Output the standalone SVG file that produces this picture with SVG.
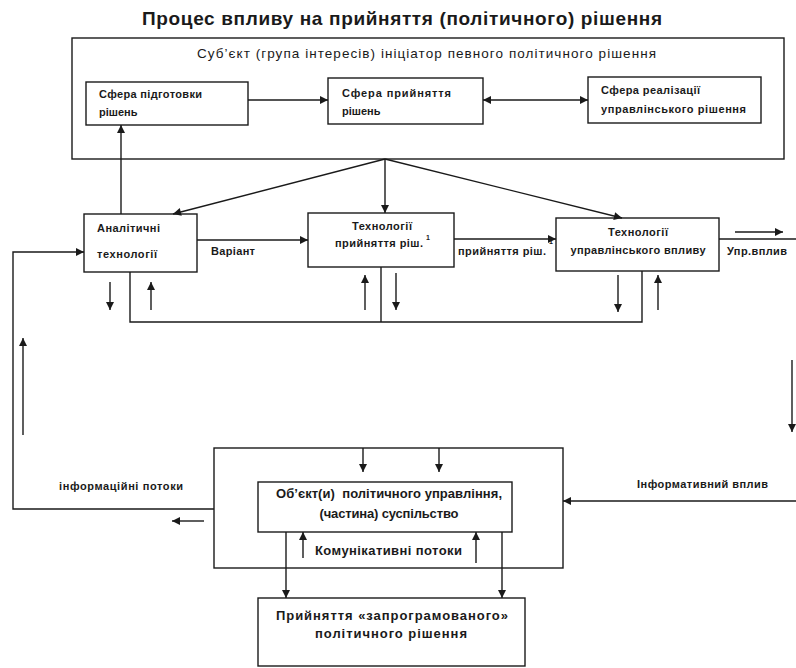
<svg xmlns="http://www.w3.org/2000/svg" width="796" height="668" viewBox="0 0 796 668">
<defs>
<style>
.box{fill:#fff;stroke:#1a1a1a;stroke-width:1.4}
.ln{fill:none;stroke:#1a1a1a;stroke-width:1.4}
.ar{fill:none;stroke:#1a1a1a;stroke-width:1.4;marker-end:url(#ah)}
.t{font-family:"Liberation Sans",Arial,sans-serif;fill:#1a1a1a}
.b{font-weight:bold}
.s11{font-size:11px}
.s12{font-size:13px}
</style>
<marker id="ah" viewBox="0 0 10 10" refX="10" refY="5" markerWidth="9" markerHeight="8" orient="auto-start-reverse" markerUnits="userSpaceOnUse">
<path d="M0,0 L10,5 L0,10 z" fill="#1a1a1a"/>
</marker>
</defs>
<rect width="796" height="668" fill="#fff"/>
<text class="t b" x="402" y="25" font-size="19" text-anchor="middle" textLength="520">Процес впливу на прийняття (політичного) рішення</text>

<g id="subject">
<rect class="box" x="72" y="38" width="712" height="121"/>
<text class="t" x="197" y="58" font-size="13.5" textLength="459">Суб’єкт (група інтересів) ініціатор певного політичного рішення</text>
</g>
<g id="prep">
<rect class="box" x="86" y="82" width="162" height="43"/>
<text class="t b s11" x="99" y="98" textLength="103">Сфера підготовки</text>
<text class="t b s11" x="99" y="116">рішень</text>
</g>
<g id="accept">
<rect class="box" x="328" y="78" width="155" height="46"/>
<text class="t b s11" x="342" y="97" textLength="109">Сфера прийняття</text>
<text class="t b s11" x="342" y="115">рішень</text>
</g>
<g id="realize">
<rect class="box" x="588" y="77" width="173" height="46"/>
<text class="t b s11" x="601" y="94" textLength="99">Сфера реалізації</text>
<text class="t b s11" x="601" y="113" textLength="145">управлінського рішення</text>
</g>

<g id="analytic">
<rect class="box" x="84" y="214" width="113" height="58"/>
<text class="t b s11" x="97" y="232" textLength="63">Аналітичні</text>
<text class="t b s11" x="97" y="258" textLength="60">технології</text>
</g>
<g id="tech-accept">
<rect class="box" x="308" y="213" width="146" height="54"/>
<text class="t b s11" x="382" y="230" text-anchor="middle" textLength="60">Технології</text>
<text class="t b s11" x="335" y="247" textLength="88">прийняття ріш.</text>
<text class="t b" x="426" y="240" font-size="7">1</text>
</g>
<g id="tech-manage">
<rect class="box" x="556" y="218" width="163" height="53"/>
<text class="t b s11" x="638" y="236" text-anchor="middle" textLength="60">Технології</text>
<text class="t b s11" x="638" y="254" text-anchor="middle" textLength="135">управлінського впливу</text>
</g>

<g id="object">
<rect class="box" x="214" y="448" width="349" height="120"/>
<rect class="box" x="258" y="482" width="254" height="50"/>
<text class="t b s12" x="389" y="498" text-anchor="middle" textLength="226" xml:space="preserve">Об’єкт(и)  політичного управління,</text>
<text class="t b s12" x="389" y="518" text-anchor="middle" textLength="139">(частина) суспільство</text>
</g>
<g id="programmed">
<rect class="box" x="258" y="598" width="267" height="68"/>
<text class="t b s12" x="392" y="620" text-anchor="middle" textLength="232">Прийняття «запрограмованого»</text>
<text class="t b s12" x="391" y="638" text-anchor="middle" textLength="152">політичного рішення</text>
</g>

<g id="connectors">
<path class="ar" d="M248,100 H328"/>
<path class="ar" d="M483,100 H588" marker-start="url(#ah)"/>
<path class="ar" d="M121,214 V125"/>
<path class="ar" d="M385,159 L173,214"/>
<path class="ar" d="M385,159 V213"/>
<path class="ar" d="M385,159 L622,218"/>
<path class="ar" d="M197,240 H308"/>
<path class="ar" d="M454,239 H556"/>
<path class="ln" d="M719,239 H796"/>
<path class="ar" d="M735,232 H783"/>
<path class="ln" d="M130,272 V322 H642 V271"/>
<path class="ln" d="M381,267 V322"/>
<path class="ar" d="M110,282 V310"/>
<path class="ar" d="M151,310 V282"/>
<path class="ar" d="M365,310 V275"/>
<path class="ar" d="M396,273 V310"/>
<path class="ar" d="M618,275 V312"/>
<path class="ar" d="M658,310 V275"/>
<path class="ar" d="M214,509 H13 V252 H84"/>
<path class="ar" d="M23,435 V338"/>
<path class="ar" d="M204,521 H172"/>
<path class="ar" d="M792,360 V432"/>
<path class="ar" d="M796,501 H563"/>
<path class="ar" d="M363,448 V472"/>
<path class="ar" d="M439,448 V472"/>
<path class="ar" d="M286,532 V598"/>
<path class="ar" d="M502,532 V598"/>
<path class="ar" d="M303,558 V532"/>
<path class="ar" d="M476,563 V532"/>
</g>

<g id="labels">
<text class="t b s11" x="211" y="255" textLength="44">Варіант</text>
<text class="t b s11" x="458" y="255" textLength="88">прийняття ріш.</text>
<text class="t b" x="549" y="244" font-size="7">1</text>
<text class="t b s11" x="727" y="255" textLength="60">Упр.вплив</text>
<text class="t b s11" x="59" y="490" textLength="124">інформаційні потоки</text>
<text class="t b s11" x="637" y="488" textLength="131">Інформативний вплив</text>
<text class="t b s12" x="315" y="555" textLength="147">Комунікативні потоки</text>
</g>
</svg>
